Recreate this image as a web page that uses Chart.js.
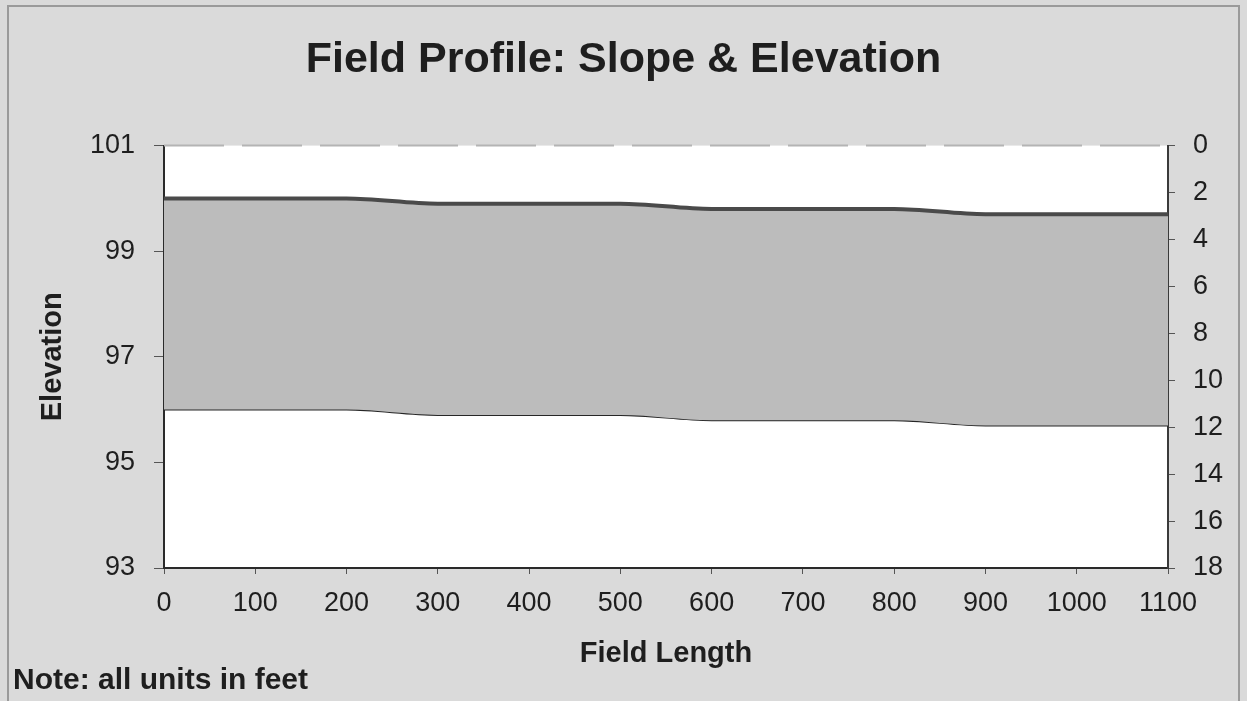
<!DOCTYPE html>
<html>
<head>
<meta charset="utf-8">
<script src="https://cdn.jsdelivr.net/npm/chart.js@4"></script>
<style>
  html, body { margin: 0; padding: 0; background: #dadada; }
  #wrap { width: 1247px; height: 701px; position: relative; }
</style>
</head>
<body>
<div id="wrap"><canvas id="profileChart" width="1247" height="701"></canvas></div>
<script>
// field distance (ft) and elevations
const distances = [0, 100, 200, 300, 400, 500, 600, 700, 800, 900, 1000, 1100];
const surfaceElev = [100, 100, 100, 99.9, 99.9, 99.9, 99.8, 99.8, 99.8, 99.7, 99.7, 99.7];
const lowerElev = [96, 96, 96, 95.9, 95.9, 95.9, 95.8, 95.8, 95.8, 95.7, 95.7, 95.7];
const elevTicks = [93, 95, 97, 99, 101];
const depthRange = [0, 18];

const textColor = '#1e1e1e';
const font = 'Arial, "Liberation Sans", sans-serif';

const toPoints = vals => distances.map((d, i) => ({ x: d, y: vals[i] }));

// page background, white plot area, dashed top edge and the footnote
const framePlugin = {
    id: 'frame',
    beforeDraw(chart) {
        const { ctx, chartArea: a } = chart;
        ctx.save();
        ctx.fillStyle = '#dadada';
        ctx.fillRect(0, 0, chart.width, chart.height);
        ctx.strokeStyle = '#9a9a9a';
        ctx.lineWidth = 2;
        ctx.strokeRect(8, 6, chart.width - 16, chart.height);
        ctx.fillStyle = '#ffffff';
        ctx.fillRect(a.left, a.top, a.right - a.left, a.bottom - a.top);
        ctx.restore();
    },
    afterDraw(chart) {
        const { ctx, chartArea: a } = chart;
        ctx.save();
        ctx.strokeStyle = '#b4b4b4';
        ctx.lineWidth = 2;
        ctx.setLineDash([60, 18]);
        ctx.beginPath();
        ctx.moveTo(a.left, a.top);
        ctx.lineTo(a.right, a.top);
        ctx.stroke();
        ctx.setLineDash([]);
        ctx.fillStyle = textColor;
        ctx.font = 'bold 30px ' + font;
        ctx.textBaseline = 'alphabetic';
        ctx.fillText('Note: all units in feet', 13, 689);
        ctx.restore();
    }
};

new Chart(document.getElementById('profileChart'), {
    type: 'line',
    data: {
        datasets: [{
            label: 'Surface',
            data: toPoints(surfaceElev),
            borderColor: '#4a4a4a',
            borderWidth: 4,
            pointRadius: 0,
            cubicInterpolationMode: 'monotone',
            fill: '+1',
            backgroundColor: '#bcbcbc',
            yAxisID: 'y'
        }, {
            label: 'Lower',
            data: toPoints(lowerElev),
            borderColor: '#262626',
            borderWidth: 2,
            pointRadius: 0,
            cubicInterpolationMode: 'monotone',
            fill: false,
            yAxisID: 'y'
        }]
    },
    options: {
        responsive: false,
        animation: false,
        layout: { padding: 0 },
        scales: {
            x: {
                type: 'linear',
                min: distances[0],
                max: distances[distances.length - 1],
                afterFit: s => { s.height = 133; },
                ticks: {
                    stepSize: 100, color: textColor, font: { size: 27, family: font }, padding: 13, maxRotation: 0,
                    callback: v => String(v)
                },
                grid: { display: true, drawOnChartArea: false, tickLength: 6, tickColor: '#555' },
                border: { display: true, color: '#2a2a2a', width: 2 },
                title: { display: true, text: 'Field Length', color: textColor, font: { size: 29, weight: 'bold', family: font }, padding: { top: 0, bottom: 30 } }
            },
            y: {
                position: 'left',
                min: elevTicks[0],
                max: elevTicks[elevTicks.length - 1],
                afterFit: s => { s.width = 164; },
                afterBuildTicks: s => { s.ticks = elevTicks.map(v => ({ value: v })); },
                ticks: { color: textColor, font: { size: 27, family: font }, padding: 19 },
                grid: { display: true, drawOnChartArea: false, tickLength: 10, tickColor: '#555' },
                border: { display: true, color: '#2a2a2a', width: 2 },
                title: { display: true, text: 'Elevation', color: textColor, font: { size: 29, weight: 'bold', family: font }, padding: { top: 36, bottom: 0 } }
            },
            y2: {
                position: 'right',
                reverse: true,
                min: depthRange[0],
                max: depthRange[1],
                afterFit: s => { s.width = 79; },
                ticks: { stepSize: 2, color: textColor, font: { size: 27, family: font }, padding: 18 },
                grid: { display: true, drawOnChartArea: false, tickLength: 7, tickColor: '#555' },
                border: { display: true, color: '#3a3a3a', width: 2 }
            }
        },
        plugins: {
            legend: { display: false },
            tooltip: { enabled: false },
            title: {
                display: true,
                text: 'Field Profile: Slope & Elevation',
                color: textColor,
                font: { size: 43, weight: 'bold', family: font },
                padding: { top: 34, bottom: 60 }
            }
        }
    },
    plugins: [framePlugin]
});
</script>
</body>
</html>
